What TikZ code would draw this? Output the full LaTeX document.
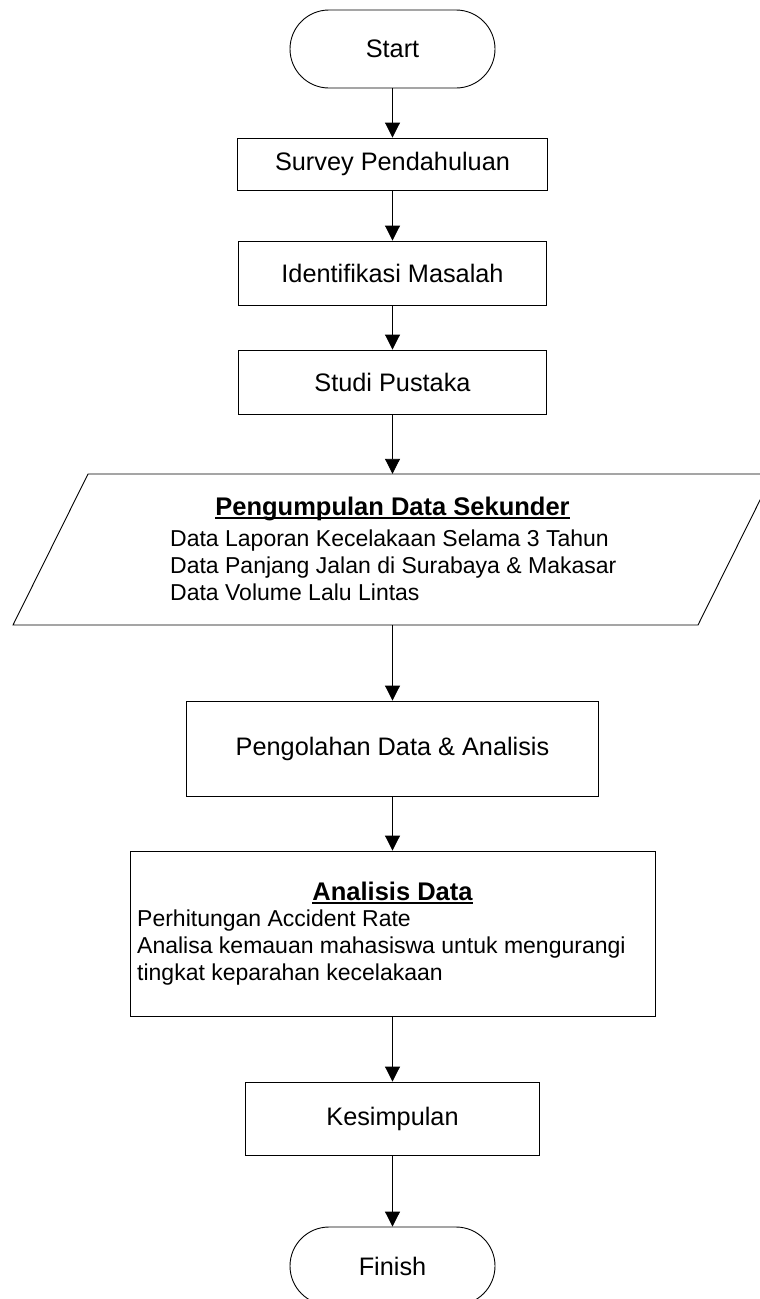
\documentclass[tikz,border=0pt]{standalone}
\usepackage{fontspec}
\setmainfont{Liberation Sans}
\usetikzlibrary{arrows.meta}
\begin{document}
\begin{tikzpicture}[x=1pt,y=-1pt,
  lbl/.style={font=\fontsize{25.3}{30}\selectfont},
  boxnode/.style={draw, line width=0.9pt, inner sep=0pt, lbl},
  termnode/.style={boxnode, rounded corners=39pt, minimum width=205pt, minimum height=78pt},
  arr/.style={line width=0.9pt, -{Triangle[length=15pt,width=15pt]}},
  ttl/.style={inner sep=0pt, anchor=base, font=\fontsize{25.5}{30}\selectfont\bfseries},
  bodytxt/.style={inner sep=0pt, anchor=west, align=left, font=\fontsize{23}{27}\selectfont},
  uline/.style={line width=1.8pt}]
\clip (0,0) rectangle (760,1299);
\fill[white] (0,0) rectangle (760,1299);

\node[termnode] (start) at (392.5,49) {Start};
\node[boxnode, minimum width=310pt, minimum height=52pt] (survey) at (392.5,164) {Survey Pendahuluan};
\node[boxnode, minimum width=308pt, minimum height=64pt] (ident) at (392.5,273) {Identifikasi Masalah};
\node[boxnode, minimum width=308pt, minimum height=64pt] (studi) at (392.5,382) {Studi Pustaka};

% data input (parallelogram)
\node[inner sep=0pt, minimum width=600pt, minimum height=151pt] (data) at (392.5,549.5) {};
\draw[line width=0.9pt] (13,625) -- (88,474) -- (773,474) -- (698,625) -- cycle;
\node[ttl] (datattl) at (392.5,515) {Pengumpulan Data Sekunder};
\draw[uline] ([yshift=-3pt]datattl.base west) -- ([yshift=-3pt]datattl.base east);
\node[bodytxt] (datalines) at (170,565) {Data Laporan Kecelakaan Selama 3 Tahun\\Data Panjang Jalan di Surabaya \& Makasar\\Data Volume Lalu Lintas};

\node[boxnode, minimum width=412pt, minimum height=95pt] (olah) at (392.5,748.5) {Pengolahan Data \& Analisis};

\node[boxnode, minimum width=525pt, minimum height=165pt] (anal) at (392.5,933.5) {};
\node[ttl] (analttl) at (392.5,900) {Analisis Data};
\draw[uline] ([yshift=-3pt]analttl.base west) -- ([yshift=-3pt]analttl.base east);
\node[bodytxt] (anallines) at (137,948) {Perhitungan Accident Rate\\Analisa kemauan mahasiswa untuk mengurangi\\tingkat keparahan kecelakaan};

\node[boxnode, minimum width=294pt, minimum height=73pt] (kes) at (392.5,1118.5) {Kesimpulan};
\node[termnode] (finish) at (392.5,1266) {Finish};

\draw[arr] (start) -- (survey);
\draw[arr] (survey) -- (ident);
\draw[arr] (ident) -- (studi);
\draw[arr] (studi) -- (data);
\draw[arr] (data) -- (olah);
\draw[arr] (olah) -- (anal);
\draw[arr] (anal) -- (kes);
\draw[arr] (kes) -- (finish);
\end{tikzpicture}
\end{document}
